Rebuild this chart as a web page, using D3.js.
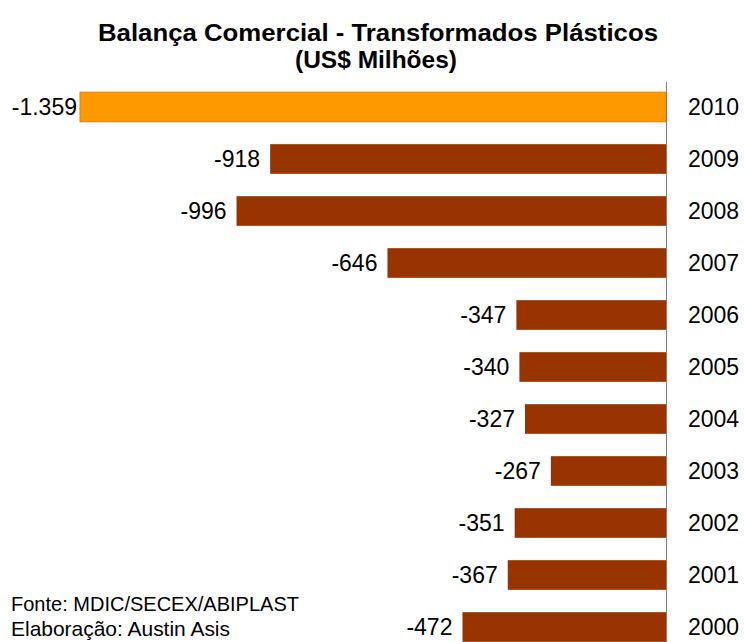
<!DOCTYPE html>
<html><head><meta charset="utf-8">
<script src="https://cdn.jsdelivr.net/npm/d3@7"></script>
<style>body{margin:0;background:#fff}svg{display:block}text{font-family:"Liberation Sans",Arial,sans-serif}</style>
</head><body><svg id="c" width="744" height="642"></svg>
<script>
const years = ["2010","2009","2008","2007","2006","2005","2004","2003","2002","2001","2000"];
const values = [-1359,-918,-996,-646,-347,-340,-327,-267,-351,-367,-472];
const valueLabels = ["-1.359","-918","-996","-646","-347","-340","-327","-267","-351","-367","-472"];
const titleLines = ["Balança Comercial - Transformados Plásticos","(US$ Milhões)"];
const footer = ["Fonte: MDIC/SECEX/ABIPLAST","Elaboração: Austin Asis"];

const svg = d3.select("#c");
const x = d3.scaleLinear().domain([-1359,0]).range([80,666]);
const y = d3.scaleBand().domain(years).range([81,653]).paddingInner(0.43).paddingOuter(0.215);

svg.append("text").attr("x",378).attr("y",41).attr("text-anchor","middle")
  .attr("font-size",24).attr("font-weight","bold").attr("textLength",560).attr("lengthAdjust","spacingAndGlyphs")
  .text(titleLines[0]);
svg.append("text").attr("x",376).attr("y",68).attr("text-anchor","middle")
  .attr("font-size",24).attr("font-weight","bold").attr("textLength",162).attr("lengthAdjust","spacingAndGlyphs")
  .text(titleLines[1]);

const data = years.map((yr,i)=>({yr,v:values[i],lab:valueLabels[i],i}));
svg.selectAll("rect.bar").data(data).join("rect").attr("class","bar")
  .attr("x",d=>x(d.v)).attr("y",d=>y(d.yr))
  .attr("width",d=>x(0)-x(d.v)).attr("height",y.bandwidth())
  .attr("fill",d=>d.i===0?"#FF9900":"#993300")
  .attr("stroke",d=>d.i===0?"#E88000":"none").attr("stroke-width",1);

svg.append("line").attr("x1",666.5).attr("x2",666.5).attr("y1",82).attr("y2",642)
  .attr("stroke","#808080").attr("stroke-width",1);

svg.selectAll("text.val").data(data).join("text").attr("class","val")
  .attr("x",d=>Math.max(x(d.v)-10,77)).attr("y",d=>y(d.yr)+y.bandwidth()/2+8)
  .attr("text-anchor","end").attr("font-size",23).attr("fill","#000").text(d=>d.lab);

svg.selectAll("text.yr").data(data).join("text").attr("class","yr")
  .attr("x",688).attr("y",d=>y(d.yr)+y.bandwidth()/2+8)
  .attr("font-size",23).attr("fill","#000").text(d=>d.yr);

svg.append("text").attr("x",11).attr("y",611).attr("font-size",21)
  .attr("textLength",288).attr("lengthAdjust","spacingAndGlyphs").text(footer[0]);
svg.append("text").attr("x",11).attr("y",636).attr("font-size",21)
  .attr("textLength",219).attr("lengthAdjust","spacingAndGlyphs").text(footer[1]);
</script></body></html>
